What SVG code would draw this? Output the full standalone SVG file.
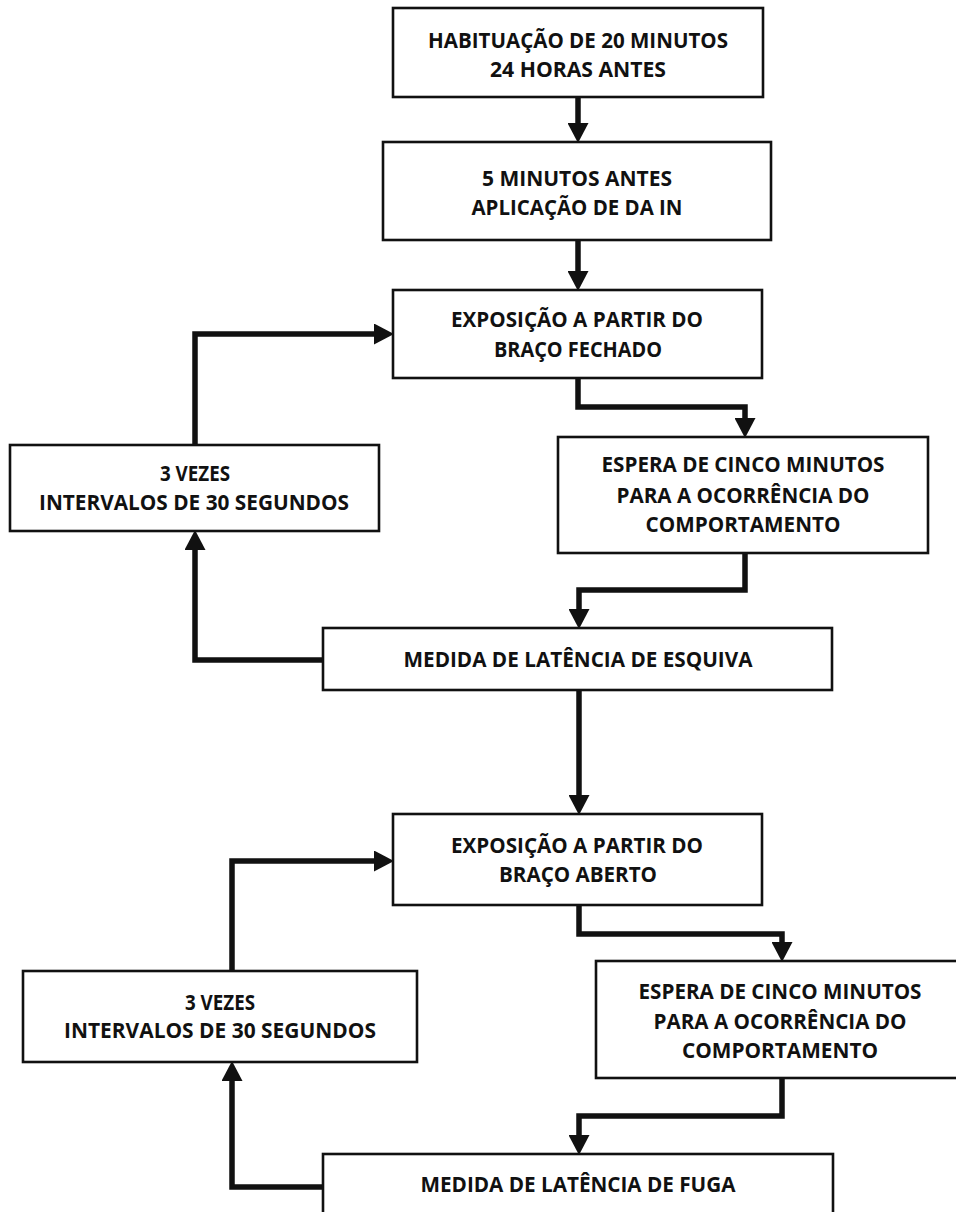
<svg xmlns="http://www.w3.org/2000/svg" width="956" height="1212" viewBox="0 0 956 1212">
<style>
.box{fill:#fff;stroke:#111;stroke-width:2.6}
.t{font-family:"Open Sans","Liberation Sans",sans-serif;font-weight:bold;font-size:21px;fill:#111;text-anchor:middle}
.c{fill:none;stroke:#111;stroke-width:5.5;stroke-linejoin:miter}
</style>
<defs>
<marker id="ah" markerUnits="userSpaceOnUse" markerWidth="20" markerHeight="21" refX="0" refY="10.5" orient="auto" viewBox="0 0 20 21">
<path d="M0,0 L20,10.5 L0,21 z" fill="#111"/>
</marker>
</defs>
<rect width="956" height="1212" fill="#fff"/>
<g id="connectors">
<path class="c" d="M578,97 V123" marker-end="url(#ah)"/>
<path class="c" d="M578,240 V271" marker-end="url(#ah)"/>
<path class="c" d="M578,378 V407 H745 V418" marker-end="url(#ah)"/>
<path class="c" d="M745,553 V590 H579 V609" marker-end="url(#ah)"/>
<path class="c" d="M323,660 H195 V550" marker-end="url(#ah)"/>
<path class="c" d="M195,445 V334 H374" marker-end="url(#ah)"/>
<path class="c" d="M579,690 V795" marker-end="url(#ah)"/>
<path class="c" d="M579,905 V934 H782 V942" marker-end="url(#ah)"/>
<path class="c" d="M782,1078 V1116 H579 V1135" marker-end="url(#ah)"/>
<path class="c" d="M323,1187 H232 V1081" marker-end="url(#ah)"/>
<path class="c" d="M232,971 V861 H374" marker-end="url(#ah)"/>
</g>
<g id="n1">
<rect class="box" x="393" y="8" width="370" height="89"/>
<text class="t" x="578" y="48" textLength="300" lengthAdjust="spacingAndGlyphs">HABITUAÇÃO DE 20 MINUTOS</text>
<text class="t" x="578" y="77" textLength="176" lengthAdjust="spacingAndGlyphs">24 HORAS ANTES</text>
</g>
<g id="n2">
<rect class="box" x="383" y="142" width="388" height="98"/>
<text class="t" x="577" y="186" textLength="190" lengthAdjust="spacingAndGlyphs">5 MINUTOS ANTES</text>
<text class="t" x="577" y="215" textLength="211" lengthAdjust="spacingAndGlyphs">APLICAÇÃO DE DA IN</text>
</g>
<g id="n3">
<rect class="box" x="393" y="290" width="369" height="88"/>
<text class="t" x="577" y="327" textLength="252" lengthAdjust="spacingAndGlyphs">EXPOSIÇÃO A PARTIR DO</text>
<text class="t" x="578" y="357" textLength="168" lengthAdjust="spacingAndGlyphs">BRAÇO FECHADO</text>
</g>
<g id="n4">
<rect class="box" x="10" y="445" width="369" height="86"/>
<text class="t" x="195" y="481" textLength="70" lengthAdjust="spacingAndGlyphs">3 VEZES</text>
<text class="t" x="194" y="510" textLength="310" lengthAdjust="spacingAndGlyphs">INTERVALOS DE 30 SEGUNDOS</text>
</g>
<g id="n5">
<rect class="box" x="558" y="437" width="370" height="116"/>
<text class="t" x="743" y="472" textLength="283" lengthAdjust="spacingAndGlyphs">ESPERA DE CINCO MINUTOS</text>
<text class="t" x="743" y="503" textLength="253" lengthAdjust="spacingAndGlyphs">PARA A OCORRÊNCIA DO</text>
<text class="t" x="743" y="532" textLength="195" lengthAdjust="spacingAndGlyphs">COMPORTAMENTO</text>
</g>
<g id="n6">
<rect class="box" x="323" y="628" width="509" height="62"/>
<text class="t" x="578" y="667" textLength="349" lengthAdjust="spacingAndGlyphs">MEDIDA DE LATÊNCIA DE ESQUIVA</text>
</g>
<g id="n7">
<rect class="box" x="393" y="814" width="369" height="91"/>
<text class="t" x="577" y="853" textLength="252" lengthAdjust="spacingAndGlyphs">EXPOSIÇÃO A PARTIR DO</text>
<text class="t" x="578" y="882" textLength="158" lengthAdjust="spacingAndGlyphs">BRAÇO ABERTO</text>
</g>
<g id="n8">
<rect class="box" x="23" y="971" width="394" height="91"/>
<text class="t" x="220" y="1010" textLength="70" lengthAdjust="spacingAndGlyphs">3 VEZES</text>
<text class="t" x="220" y="1038" textLength="312" lengthAdjust="spacingAndGlyphs">INTERVALOS DE 30 SEGUNDOS</text>
</g>
<g id="n9">
<rect class="box" x="596" y="961" width="368" height="117"/>
<text class="t" x="780" y="999" textLength="283" lengthAdjust="spacingAndGlyphs">ESPERA DE CINCO MINUTOS</text>
<text class="t" x="780" y="1029" textLength="253" lengthAdjust="spacingAndGlyphs">PARA A OCORRÊNCIA DO</text>
<text class="t" x="780" y="1058" textLength="196" lengthAdjust="spacingAndGlyphs">COMPORTAMENTO</text>
</g>
<g id="n10">
<rect class="box" x="323" y="1154" width="510" height="80"/>
<text class="t" x="578" y="1192" textLength="315" lengthAdjust="spacingAndGlyphs">MEDIDA DE LATÊNCIA DE FUGA</text>
</g>
</svg>
